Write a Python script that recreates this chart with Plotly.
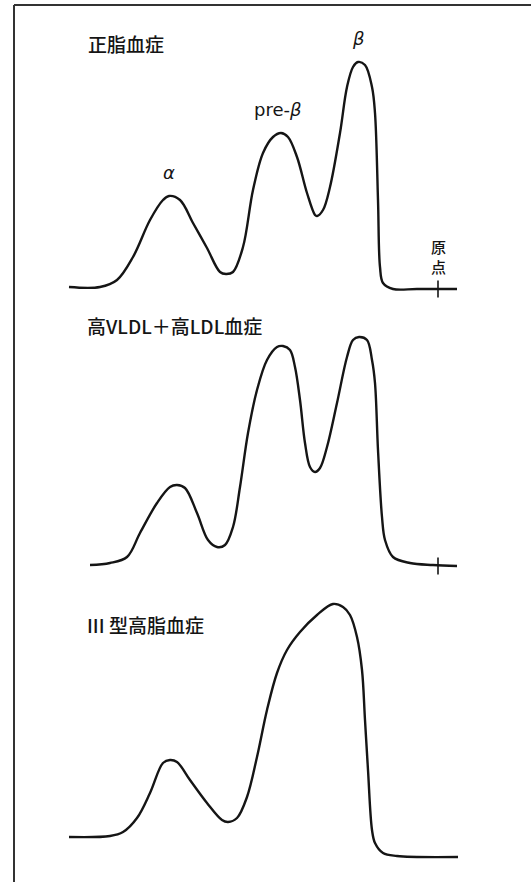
import plotly.graph_objects as go

# ---- data: densitometric scans (migration distance, relative absorbance) ----
# Panel 1: 正脂血症 (normolipidemia)
x1 = [0, 31, 48, 64, 81, 94, 100, 111, 124, 138, 151, 157, 164, 174, 184, 194, 204, 212, 219, 228,
      238, 246, 248, 254, 261, 271, 278, 284, 289, 296, 303, 306, 309, 311, 314, 324, 348, 388]
y1 = [0, 0, 7, 30, 67, 87, 91, 87, 64, 39, 15, 13, 15, 40, 97, 134, 150, 154, 150, 130,
      94, 72, 71, 77, 100, 154, 200, 220, 225, 222, 200, 174, 87, 20, 4, -2, -2, -2]

# Panel 2: 高VLDL＋高LDL血症
x2 = [21, 41, 58, 71, 88, 101, 108, 116, 128, 139, 148, 156, 164, 171, 179, 188, 198, 208, 214, 221,
      226, 231, 236, 241, 246, 251, 258, 268, 278, 284, 290, 298, 303, 306, 309, 313, 316, 324, 341, 364, 388]
y2 = [0, 2, 8, 32, 62, 78, 80, 77, 52, 25, 18, 20, 38, 78, 132, 175, 205, 218, 219, 215,
      198, 165, 122, 98, 93, 97, 118, 162, 208, 225, 228, 225, 205, 182, 115, 48, 25, 8, 2, 0, -1]

# Panel 3: III型高脂血症
x3 = [0, 41, 54, 68, 81, 94, 101, 108, 121, 138, 153, 159, 168, 178, 188, 198, 208, 218, 231, 248,
      264, 274, 281, 288, 293, 296, 299, 303, 306, 314, 328, 389]
y3 = [0, 1, 5, 19, 44, 74, 77, 75, 57, 34, 17, 15, 19, 40, 80, 127, 164, 187, 205, 222,
      233, 230, 222, 200, 167, 117, 67, 7, -6, -16, -19, -20]

titles = ["正脂血症", "高VLDL＋高LDL血症", "III 型高脂血症"]
peak_labels = ["α", "pre-β", "β"]
peak_idx = [6, 17, 28]          # indices of the α, pre-β, β maxima in panel 1
origin_x = 369                  # position of the application point (原点)
origin_label = "原<br>点"

# ---- axis ranges (each panel gets its own overlaying y axis) ----
xr = [-69, 462]
yr1 = [-595, 287]
yr2 = [-317, 565]
yr3 = [-45, 837]

ink = "#151515"
font = "Noto Sans CJK JP"

fig = go.Figure()
for xs, ys, ya in [(x1, y1, "y"), (x2, y2, "y2"), (x3, y3, "y3")]:
    fig.add_trace(go.Scatter(x=xs, y=ys, yaxis=ya, mode="lines",
                             line=dict(color=ink, width=2.4, shape="spline", smoothing=1.0),
                             showlegend=False, hoverinfo="skip"))

# origin tick marks (panels 1 and 2)
for ya, dy in [("y", -2), ("y2", -1)]:
    fig.add_trace(go.Scatter(x=[origin_x], y=[dy], yaxis=ya, mode="markers",
                             marker=dict(symbol="line-ns", size=12,
                                         line=dict(color=ink, width=1.6)),
                             showlegend=False, hoverinfo="skip"))

# panel titles
title_pos = [(17, 244, "y"), (16, 240, "y2"), (16, 213, "y3")]
for t, (tx, ty, ya) in zip(titles, title_pos):
    fig.add_annotation(x=tx, y=ty, xref="x", yref=ya, text=t, showarrow=False,
                       xanchor="left", yanchor="middle",
                       font=dict(family=font, size=19, color=ink, weight=500))

# peak labels
for lab, i in zip(peak_labels, peak_idx):
    txt = "pre-<i>β</i>" if lab == "pre-β" else "<i>" + lab + "</i>"
    fig.add_annotation(x=x1[i] - (3 if lab == "pre-β" else 0), y=y1[i], xref="x", yref="y",
                       text=txt, showarrow=False, yshift=24, yanchor="middle",
                       font=dict(family="DejaVu Sans", size=18, color=ink))

# 原点 label (written vertically)
fig.add_annotation(x=origin_x, y=y1[-1], xref="x", yref="y", text=origin_label,
                   showarrow=False, yanchor="middle", yshift=33,
                   font=dict(family=font, size=15, color=ink, weight=500))

# frame of the scanned figure
fig.add_shape(type="line", xref="paper", yref="paper", x0=14/531, x1=14/531, y0=0, y1=1-5/882,
              line=dict(color="#333333", width=2))
fig.add_shape(type="line", xref="paper", yref="paper", x0=14/531, x1=1, y0=1-5/882, y1=1-5/882,
              line=dict(color="#333333", width=2))

hidden = dict(visible=False, showgrid=False, zeroline=False, fixedrange=True)
fig.update_layout(
    width=531, height=882,
    margin=dict(l=0, r=0, t=0, b=0),
    paper_bgcolor="white", plot_bgcolor="white",
    xaxis=dict(range=xr, **hidden),
    yaxis=dict(range=yr1, domain=[0, 1], **hidden),
    yaxis2=dict(range=yr2, overlaying="y", **hidden),
    yaxis3=dict(range=yr3, overlaying="y", **hidden),
)

fig.write_html("out.html", config={"displayModeBar": False},
               post_script="document.body.style.margin='0';document.body.style.overflow='hidden';")
